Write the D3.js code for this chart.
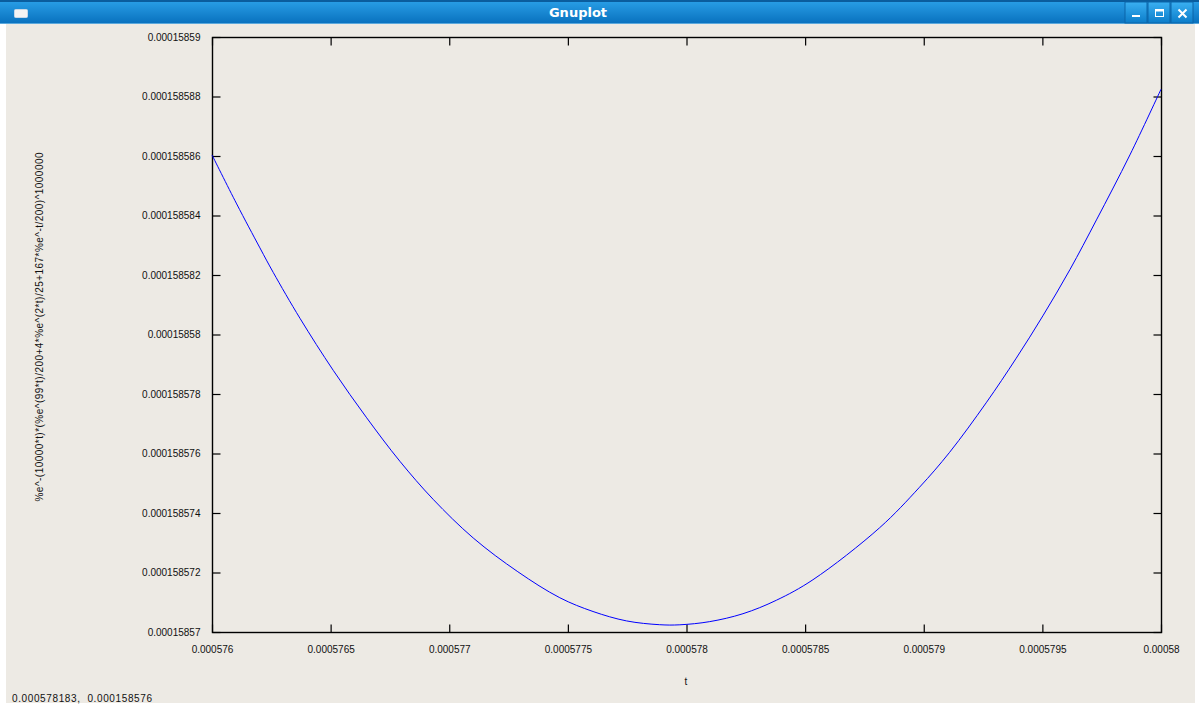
<!DOCTYPE html>
<html>
<head>
<meta charset="utf-8">
<script src="https://cdn.jsdelivr.net/npm/d3@7"></script>
<style>
  body { margin: 0; background: #ffffff; }
  svg { display: block; }
</style>
</head>
<body>
<svg id="win" width="1199" height="707"></svg>
<script>
// curve samples: t and f(t)
var tVals = [0.000576, 0.000576104, 0.000576202, 0.000576258, 0.000576371, 0.000576511,
  0.000576652, 0.000576792, 0.000576932, 0.000577101, 0.000577289, 0.000577466,
  0.000577606, 0.000577747, 0.000577887, 0.000577972, 0.000578098, 0.000578238,
  0.000578379, 0.000578533, 0.000578814, 0.000578982, 0.000579109, 0.000579263,
  0.00057939, 0.000579502, 0.000579616, 0.000579728, 0.000579869, 0.00058]
var fVals = [0.000158586036, 0.000158584389, 0.000158582911, 0.000158582088, 0.000158580542, 0.000158578795,
  0.0001585772, 0.000158575738, 0.000158574461, 0.000158573161, 0.000158572026, 0.000158571152,
  0.000158570689, 0.000158570373, 0.000158570245, 0.000158570242, 0.000158570349, 0.000158570615,
  0.000158571068, 0.000158571757, 0.000158573504, 0.000158574865, 0.00015857604, 0.000158577703,
  0.000158579205, 0.000158580626, 0.000158582179, 0.000158583852, 0.000158586036, 0.000158588243]

var xTicks = [0.000576, 0.0005765, 0.000577, 0.0005775, 0.000578, 0.0005785, 0.000579, 0.0005795, 0.00058]
var yTicks = [0.00015857, 0.000158572, 0.000158574, 0.000158576, 0.000158578, 0.00015858,
  0.000158582, 0.000158584, 0.000158586, 0.000158588, 0.00015859]
var yTitle = "%e^-(10000*t)*(%e^(99*t)/200+4*%e^(2*t)/25+167*%e^-t/200)^1000000"
var xTitle = "t"
var statusText = "0.000578183,  0.000158576"

var svg = d3.select("#win")
var W = 1199, H = 707

// ---- window chrome ----
var defs = svg.append("defs")
var g1 = defs.append("linearGradient").attr("id","tb").attr("x1",0).attr("y1",0).attr("x2",0).attr("y2",1)
g1.append("stop").attr("offset","0").attr("stop-color","#2aa0e8")
g1.append("stop").attr("offset","1").attr("stop-color","#0870bd")
var g2 = defs.append("linearGradient").attr("id","btn").attr("x1",0).attr("y1",0).attr("x2",0).attr("y2",1)
g2.append("stop").attr("offset","0").attr("stop-color","#3ab0f2")
g2.append("stop").attr("offset","1").attr("stop-color","#0b7cc9")

svg.append("rect").attr("x",0).attr("y",0).attr("width",W).attr("height",H).attr("fill","#ffffff")
svg.append("rect").attr("x",6).attr("y",24).attr("width",W-10).attr("height",679).attr("fill","#edeae4")
svg.append("rect").attr("x",0).attr("y",0).attr("width",W).attr("height",24).attr("fill","url(#tb)")
svg.append("rect").attr("x",0).attr("y",0).attr("width",W).attr("height",2).attr("fill","#0a5d9e")
svg.append("rect").attr("x",0).attr("y",23).attr("width",W).attr("height",1).attr("fill","#5aa8dc")

svg.append("rect").attr("x",14.5).attr("y",9.5).attr("width",13).attr("height",8).attr("rx",1)
  .attr("fill","#f4f4f4").attr("stroke","#c8d8e8")

svg.append("text").attr("x",578).attr("y",17).attr("text-anchor","middle")
  .attr("font-family","DejaVu Sans").attr("font-weight","bold").attr("font-size",13)
  .attr("fill","#ffffff").text("Gnuplot")

var bx = [1125, 1148, 1171]
svg.selectAll("rect.btn").data(bx).enter().append("rect").attr("class","btn")
  .attr("x",function(d){return d}).attr("y",2).attr("width",22).attr("height",21)
  .attr("fill","url(#btn)").attr("stroke","#0a64a8").attr("stroke-width",1)
svg.append("rect").attr("x",1132).attr("y",15).attr("width",8).attr("height",2).attr("fill","#ffffff")
svg.append("rect").attr("x",1155.5).attr("y",9.5).attr("width",8).attr("height",7)
  .attr("fill","none").attr("stroke","#ffffff").attr("stroke-width",1)
svg.append("rect").attr("x",1155.5).attr("y",9.5).attr("width",8).attr("height",2).attr("fill","#ffffff")
svg.append("path").attr("d","M1178.5,9.5 L1186.5,17.5 M1186.5,9.5 L1178.5,17.5")
  .attr("stroke","#ffffff").attr("stroke-width",2)

// ---- plot ----
var pl = 212, pr = 1161, pt = 37, pb = 632
var x = d3.scaleLinear().domain([0.000576, 0.00058]).range([pl, pr])
var y = d3.scaleLinear().domain([0.00015857, 0.00015859]).range([pb, pt])

function gfmt(v, digits) {
  return v.toFixed(digits).replace(/0+$/, "").replace(/\.$/, "")
}

var font = "Liberation Sans"

svg.append("g").attr("transform","translate(0," + (pb + 0.5) + ")")
  .call(d3.axisBottom(x).tickValues(xTicks).tickSize(-8).tickPadding(13).tickFormat(function(d){return gfmt(d,7)}))
svg.append("g").attr("transform","translate(0," + (pt + 0.5) + ")")
  .call(d3.axisTop(x).tickValues(xTicks).tickSize(-8).tickFormat(""))
svg.append("g").attr("transform","translate(" + (pl + 0.5) + ",0)")
  .call(d3.axisLeft(y).tickValues(yTicks).tickSize(-8).tickPadding(12).tickFormat(function(d){return gfmt(d,9)}))
svg.append("g").attr("transform","translate(" + (pr + 0.5) + ",0)")
  .call(d3.axisRight(y).tickValues(yTicks).tickSize(-8).tickFormat(""))

svg.selectAll(".domain").remove()
svg.selectAll(".tick line").attr("stroke","#000000").attr("stroke-width",1.2)
svg.selectAll(".tick text").attr("font-family",font).attr("font-size",10).attr("fill","#111111")

svg.append("rect").attr("x",pl + 0.5).attr("y",pt + 0.5).attr("width",pr - pl).attr("height",pb - pt)
  .attr("fill","none").attr("stroke","#000000").attr("stroke-width",1.4)

var pts = tVals.map(function(t,i){ return [t, fVals[i]] })
var line = d3.line().x(function(d){return x(d[0])}).y(function(d){return y(d[1])}).curve(d3.curveCatmullRom)
svg.append("path").datum(pts).attr("d", line).attr("fill","none").attr("stroke","#0000ff").attr("stroke-width",1)

svg.append("text").attr("x",686).attr("y",685).attr("text-anchor","middle")
  .attr("font-family",font).attr("font-size",10).attr("fill","#111111").text(xTitle)
svg.append("text").attr("transform","translate(43,327) rotate(-90)").attr("text-anchor","middle")
  .attr("font-family",font).attr("font-size",10).attr("fill","#111111")
  .attr("textLength",349).attr("lengthAdjust","spacing").text(yTitle)

svg.append("text").attr("x",12).attr("y",702).style("white-space","pre")
  .attr("font-family",font).attr("font-size",10).attr("fill","#111111")
  .attr("textLength",140).attr("lengthAdjust","spacing").text(statusText)
</script>
</body>
</html>
